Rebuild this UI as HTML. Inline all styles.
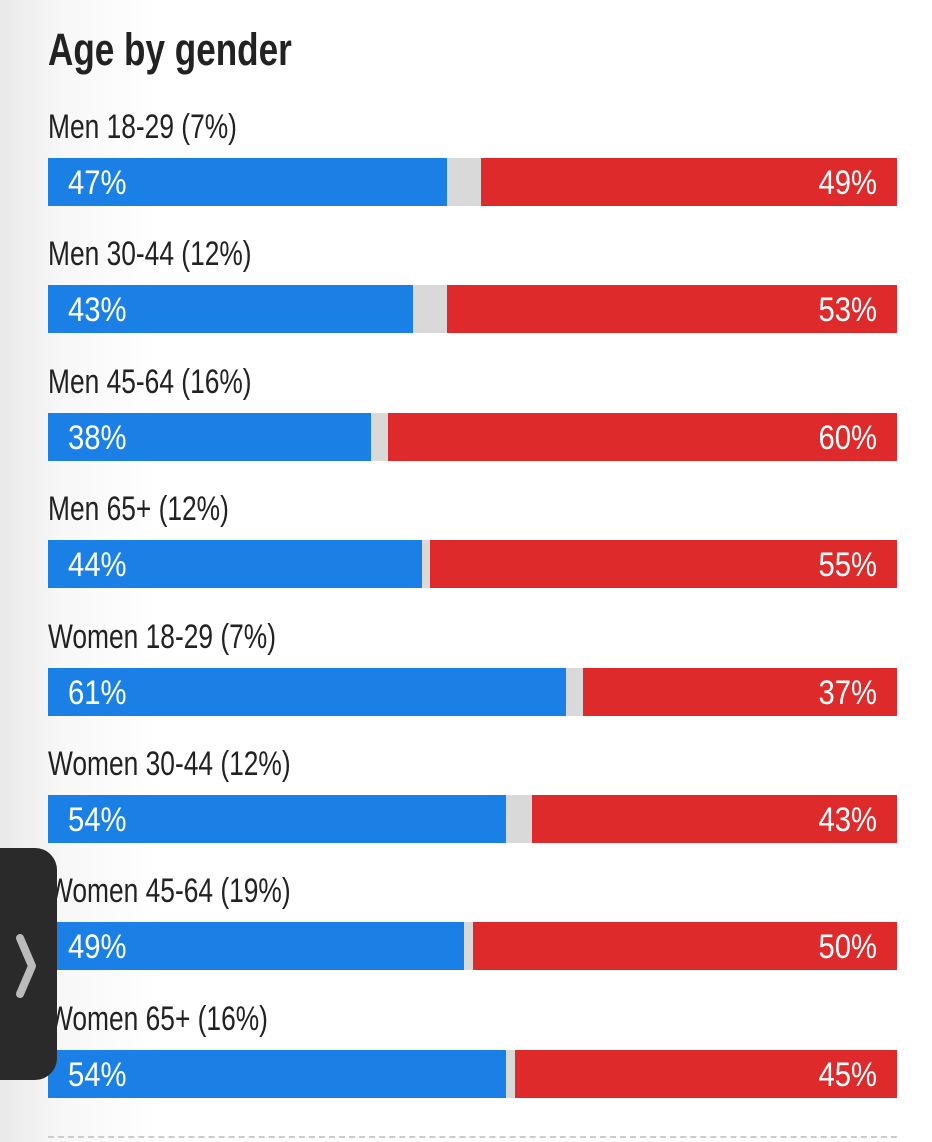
<!DOCTYPE html>
<html><head><meta charset="utf-8"><style>
body{margin:0;width:932px;height:1142px;overflow:hidden;background:linear-gradient(90deg,#e9e9e9 0px,#f7f7f7 60px,#fff 160px);font-family:"Liberation Sans Narrow","Liberation Sans",sans-serif;position:relative}
#title{position:absolute;left:48px;top:24px;font-size:45px;font-weight:bold;color:#222;transform:scaleX(0.78);transform-origin:left}
.lbl{position:absolute;left:48px;font-size:34px;color:#222;transform:scaleX(0.775);transform-origin:left;white-space:nowrap}
.bar{position:absolute;height:48px}
.val{position:absolute;font-size:34px;color:#fff;line-height:50px;transform:scaleX(0.86)}
#tab{position:absolute;left:-10px;top:848px;width:67px;height:232px;background:#2a2a2a;border-radius:0 22px 22px 0}
#dash{position:absolute;left:48px;top:1136px;width:849px;border-top:2px dashed #ccc}
</style></head><body>
<div id="title">Age by gender</div>
<div id="chart"></div>
<div id="dash"></div>
<div id="tab">
<svg width="67" height="232" style="position:absolute;left:0;top:0"><polyline points="30,90 42,118 30,146" fill="none" stroke="#bbb" stroke-width="8" stroke-linecap="round" stroke-linejoin="round"/></svg>
</div>
<script>
const categories=["Men 18-29 (7%)","Men 30-44 (12%)","Men 45-64 (16%)","Men 65+ (12%)","Women 18-29 (7%)","Women 30-44 (12%)","Women 45-64 (19%)","Women 65+ (16%)"];
const demValues=[47,43,38,44,61,54,49,54];
const repValues=[49,53,60,55,37,43,50,45];
const X0=48,W=849,Y0=158,STEP=127.4;
const x=v=>v/100*W;
const c=document.getElementById('chart');
categories.forEach((cat,i)=>{
 const y=Y0+i*STEP;
 const l=document.createElement('div');l.className='lbl';l.style.top=(y-50)+'px';l.textContent=cat;
 
 
 c.appendChild(l);
 const g=document.createElement('div');g.className='bar';g.style.cssText=`left:${X0}px;top:${y}px;width:${W}px;background:#d9d9d9`;
 
 
 c.appendChild(g);
 const b=document.createElement('div');b.className='bar';b.style.cssText=`left:${X0}px;top:${y}px;width:${x(demValues[i])}px;background:#1a80e5`;
 
 
 c.appendChild(b);
 const r=document.createElement('div');r.className='bar';r.style.cssText=`left:${X0+W-x(repValues[i])}px;top:${y}px;width:${x(repValues[i])}px;background:#de2a2a`;
 
 
 c.appendChild(r);
 const dv=document.createElement('div');dv.className='val';dv.style.cssText=`left:68px;top:${y}px;transform-origin:left`;dv.textContent=demValues[i]+'%';
 
 
 c.appendChild(dv);
 const rv=document.createElement('div');rv.className='val';rv.style.cssText=`right:${932-877}px;top:${y}px;transform-origin:right`;rv.textContent=repValues[i]+'%';
 
 
 c.appendChild(rv);
});
</script>
</body></html>
